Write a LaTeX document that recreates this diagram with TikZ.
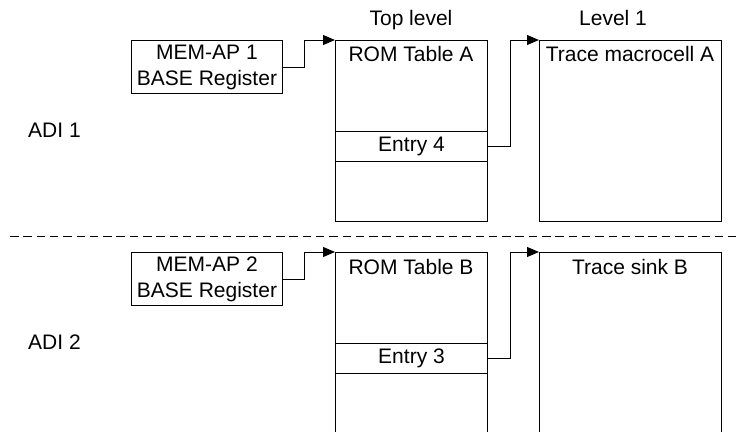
\documentclass[tikz,border=0pt]{standalone}
\usepackage{fontspec}
\setmainfont{Liberation Sans}
\usetikzlibrary{arrows.meta}
\begin{document}
\begin{tikzpicture}[x=1pt,y=-1pt,
  box/.style={draw=black,line width=1pt,inner sep=0pt,anchor=north west},
  txt/.style={font=\fontsize{21}{26}\selectfont,inner sep=0pt,text=black},
  conn/.style={draw=black,line width=1pt,-{Triangle[length=12pt,width=10pt]}}]
\clip (0,0) rectangle (736,431);
\fill[white] (0,0) rectangle (736,431);
% headers
\node[txt,anchor=base] (hTop) at (411,25) {Top level};
\node[txt,anchor=base] (hL1) at (613,25) {Level 1};
% ADI labels
\node[txt,anchor=west] (adi1) at (28,130) {ADI 1};
\node[txt,anchor=west] (adi2) at (28,342) {ADI 2};
% top section
\node[box,minimum width=151pt,minimum height=53pt,txt,align=center] (mem1) at (131,40) {MEM-AP 1\\BASE Register};
\node[box,minimum width=152pt,minimum height=181pt] (romA) at (335,40) {};
\node[txt] (romAt) at (411,54) {ROM Table A};
\node[box,minimum width=152pt,minimum height=30pt,txt] (ent4) at (335,131) {Entry 4};
\node[box,minimum width=182pt,minimum height=181pt] (trA) at (539,40) {};
\node[txt] (trAt) at (630,54) {Trace macrocell A};
% separator
\coordinate (dl) at (10,236);
\coordinate (dr) at (736,236);
\draw[black,line width=1pt,dash pattern=on 8.5pt off 4.8pt] (dl) -- (dr);
% bottom section
\node[box,minimum width=151pt,minimum height=53pt,txt,align=center] (mem2) at (131,252) {MEM-AP 2\\BASE Register};
\node[box,minimum width=152pt,minimum height=200pt] (romB) at (335,252) {};
\node[txt] (romBt) at (411,267) {ROM Table B};
\node[box,minimum width=152pt,minimum height=30pt,txt] (ent3) at (335,342.5) {Entry 3};
\node[box,minimum width=182pt,minimum height=200pt] (trB) at (539,252) {};
\node[txt] (trBt) at (630,267) {Trace sink B};
% connectors
\draw[conn] (mem1.east) -- ++(21,0) |- (romA.north west);
\draw[conn] (ent4.east) -- ++(22,0) |- (trA.north west);
\draw[conn] (mem2.east) -- ++(21,0) |- (romB.north west);
\draw[conn] (ent3.east) -- ++(22,0) |- (trB.north west);
\end{tikzpicture}
\end{document}
